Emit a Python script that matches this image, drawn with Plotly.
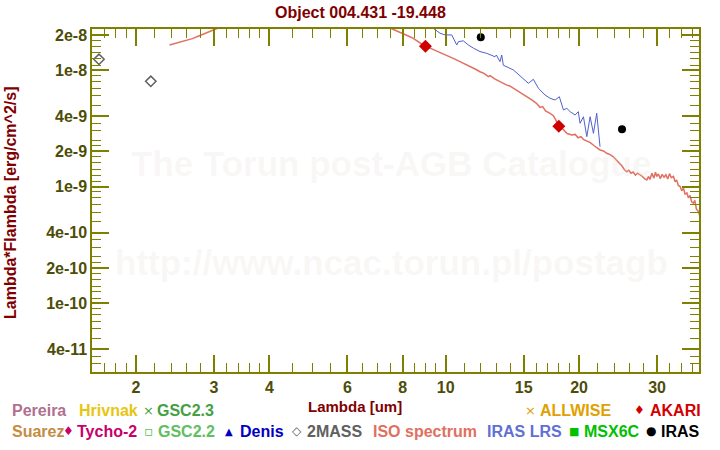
import plotly.graph_objects as go

# ---------------- data ----------------
iso_wl = [2.38, 2.45, 2.53, 2.60, 2.68, 2.78, 2.88, 3.00, 3.20, 3.60, 4.20, 5.00, 5.80, 6.60, 7.20,
          7.60, 7.80, 8.02, 8.23, 8.45, 8.70, 8.98, 9.30, 9.63, 10.06, 10.40, 10.77, 11.05, 11.35,
          11.65, 11.95, 12.20, 12.48, 12.60, 12.90, 13.26, 13.50, 13.70, 13.95, 14.22, 14.60, 14.97,
          15.30, 15.64, 16.00, 16.33, 16.55, 16.80, 17.20, 17.50, 17.80, 18.05, 18.40, 18.80, 19.25,
          19.60, 19.90, 20.20, 20.50, 20.82, 21.20, 21.60, 22.00, 22.30, 22.70, 23.10, 23.50, 23.90,
          24.30, 24.70, 25.00, 25.30, 25.62, 25.90, 26.20, 26.50, 26.80, 27.10, 27.46, 27.80, 28.10,
          28.44, 28.70, 28.90, 29.20, 29.50, 29.75, 29.95, 30.20, 30.50, 30.80, 31.10, 31.40, 31.70,
          32.00, 32.30, 32.66, 32.95, 33.20, 33.50, 33.81, 34.10, 34.40, 34.70, 35.02, 35.30, 35.60,
          35.90, 36.23, 36.50, 36.80, 37.19, 37.50]
iso_flux = [1.64e-8, 1.69e-8, 1.75e-8, 1.80e-8, 1.86e-8, 1.97e-8, 2.08e-8, 2.24e-8, 2.45e-8, 2.75e-8,
            2.95e-8, 3.05e-8, 2.95e-8, 2.70e-8, 2.45e-8,
            2.24e-8, 2.15e-8, 2.07e-8, 1.96e-8, 1.87e-8, 1.74e-8, 1.60e-8, 1.52e-8, 1.44e-8, 1.33e-8,
            1.26e-8, 1.18e-8, 1.13e-8, 1.07e-8,
            1.02e-8, 9.67e-9, 9.35e-9, 8.76e-9, 8.95e-9, 8.40e-9, 7.94e-9, 7.70e-9, 7.45e-9, 7.30e-9,
            6.97e-9, 6.60e-9, 6.22e-9,
            5.90e-9, 5.53e-9, 5.20e-9, 4.78e-9, 4.85e-9, 4.45e-9, 4.25e-9, 4.05e-9, 3.60e-9, 3.29e-9,
            3.10e-9, 2.85e-9, 2.77e-9,
            2.80e-9, 2.62e-9, 2.68e-9, 2.52e-9, 2.47e-9, 2.38e-9, 2.25e-9, 2.15e-9, 2.06e-9, 2.02e-9,
            1.93e-9, 1.88e-9, 1.80e-9,
            1.68e-9, 1.58e-9, 1.50e-9, 1.40e-9, 1.34e-9, 1.38e-9, 1.30e-9, 1.33e-9, 1.25e-9, 1.30e-9,
            1.26e-9, 1.22e-9, 1.17e-9,
            1.14e-9, 1.22e-9, 1.15e-9, 1.30e-9, 1.18e-9, 1.33e-9, 1.22e-9, 1.28e-9, 1.17e-9, 1.27e-9,
            1.20e-9, 1.26e-9, 1.16e-9,
            1.29e-9, 1.19e-9, 1.22e-9, 1.10e-9, 1.14e-9, 1.02e-9, 1.00e-9, 0.92e-9, 0.97e-9, 0.86e-9,
            0.88e-9, 0.80e-9, 0.84e-9,
            0.74e-9, 0.72e-9, 0.76e-9, 0.64e-9, 0.61e-9, 0.55e-9]

lrs_wl = [7.70, 8.50, 9.20, 9.46, 9.71, 9.97, 10.32, 10.59, 10.68, 10.96, 11.25, 11.55, 11.95, 12.38,
          12.92, 13.01, 13.26, 13.38, 13.49, 14.22, 14.97, 15.37, 15.77, 16.19, 16.76, 17.20, 17.66,
          18.05, 18.44, 18.76, 19.09, 19.59, 19.92, 20.10, 20.46, 20.82, 21.18, 21.55, 21.92, 22.10, 22.30]
lrs_flux = [3.30e-8, 2.85e-8, 2.40e-8, 2.24e-8, 2.07e-8, 2.00e-8, 2.00e-8, 1.64e-8, 1.75e-8, 1.78e-8,
            1.64e-8, 1.54e-8, 1.44e-8, 1.39e-8,
            1.30e-8, 1.345e-8, 1.18e-8, 1.345e-8, 1.10e-8, 1.00e-8, 8.49e-9, 7.69e-9, 8.32e-9, 6.97e-9,
            6.10e-9, 5.72e-9, 5.53e-9,
            5.90e-9, 4.54e-9, 4.69e-9, 4.39e-9, 4.11e-9, 4.39e-9, 3.49e-9, 3.97e-9, 2.68e-9, 3.97e-9,
            2.86e-9, 4.25e-9, 3.06e-9, 2.20e-9]

twomass_wl = [1.65, 2.16]
twomass_flux = [1.235e-8, 0.80e-8]

akari_wl = [9.0, 18.0]
akari_flux = [1.60e-8, 3.29e-9]

iras_wl = [12.0, 25.0]
iras_flux = [1.91e-8, 3.10e-9]

x_tickvals = [2, 3, 4, 6, 8, 10, 15, 20, 30]
x_ticktext = ["2", "3", "4", "6", "8", "10", "15", "20", "30"]
x_minor = [1.7, 1.8, 1.9, 2.2, 2.4, 2.6, 2.8, 3.2, 3.4, 3.6, 3.8, 4.5, 5, 5.5, 6.5, 7, 7.5,
           8.5, 9, 9.5, 11, 12, 13, 14, 16, 17, 18, 19, 22, 24, 26, 28, 32, 34, 36]
y_tickvals = [4e-11, 1e-10, 2e-10, 4e-10, 1e-9, 2e-9, 4e-9, 1e-8, 2e-8]
y_ticktext = ["4e-11", "1e-10", "2e-10", "4e-10", "1e-9", "2e-9", "4e-9", "1e-8", "2e-8"]
y_minor_mant = [1.1, 1.25, 1.4, 1.6, 1.8, 2.25, 2.5, 3, 3.5, 5, 6, 7, 8, 9]
y_minor = [3e-11, 3.5e-11] + [m * 10.0 ** e for e in (-11, -10, -9, -8) for m in y_minor_mant
                              if 2.5e-11 < m * 10.0 ** e < 2.25e-8]

legend_row1 = [("Pereira", "#b07090", None), ("Hrivnak", "#e6c612", None), ("GSC2.3", "#44a044", "×"),
               ("ALLWISE", "#e0a000", "×"), ("AKARI", "#d40000", "♦")]
legend_row2 = [("Suarez", "#c48c44", None), ("Tycho-2", "#c8006c", "♦"), ("GSC2.2", "#60c060", "▫"),
               ("Denis", "#0000c0", "▲"), ("2MASS", "#606060", "◇"), ("ISO spectrum", "#e07060", None),
               ("IRAS LRS", "#6070d4", None), ("MSX6C", "#00c000", "■"), ("IRAS", "#000000", "●")]
# left pixel positions of symbol / text for each legend entry
row1_pos = [(None, 10), (None, 77), (148, 155), (530, 538), (639, 648)]
row2_pos = [(None, 10), (68, 75), (149, 156), (229, 238), (297, 305), (None, 371), (None, 485),
            (574, 582), (651, 659)]

# ---------------- figure ----------------
L, R, T, B = 92, 699, 29, 372
W, H = 720, 450


def px(x):
    return (x - L) / (R - L)


def py(y):
    return (B - y) / (B - T)


FONT = "Liberation Sans"
fig = go.Figure()

fig.add_trace(go.Scatter(x=iso_wl, y=iso_flux, mode="lines", line=dict(color="#e07060", width=1.5),
                         showlegend=False))
fig.add_trace(go.Scatter(x=lrs_wl, y=lrs_flux, mode="lines", line=dict(color="#5060d0", width=1),
                         showlegend=False))
fig.add_trace(go.Scatter(x=twomass_wl, y=twomass_flux, mode="markers",
                         marker=dict(symbol="diamond-open", size=8, color="#606060",
                                     line=dict(width=1.5, color="#606060")), showlegend=False))
fig.add_trace(go.Scatter(x=akari_wl, y=akari_flux, mode="markers",
                         marker=dict(symbol="diamond", size=10, color="#d00000"), showlegend=False))
fig.add_trace(go.Scatter(x=iras_wl, y=iras_flux, mode="markers",
                         marker=dict(symbol="circle", size=8, color="#000000"), showlegend=False))

axis_common = dict(
    type="log", showgrid=False, zeroline=False, showline=True, linecolor="#808000", linewidth=1.5,
    mirror="ticks", ticks="inside", ticklen=17, tickwidth=1.5, tickcolor="#808000",
    tickfont=dict(family=FONT, size=16, color="#4d4d08", weight="bold"),
)

fig.update_xaxes(**axis_common, range=[0.2017, 1.5717], tickmode="array", tickvals=x_tickvals,
                 ticktext=x_ticktext,
                 minor=dict(tickmode="array", tickvals=x_minor, ticks="inside", ticklen=9,
                            tickcolor="#808000", tickwidth=1.2))
fig.update_yaxes(**axis_common, range=[-10.592, -7.648], tickmode="array", tickvals=y_tickvals,
                 ticktext=y_ticktext,
                 minor=dict(tickmode="array", tickvals=y_minor, ticks="inside", ticklen=9,
                            tickcolor="#808000", tickwidth=1.2))

ann = []
# watermark (drawn first, faint)
for txt, yy in [("The Torun post-AGB Catalogue", 163), ("http://www.ncac.torun.pl/postagb", 262)]:
    ann.append(dict(text=txt, x=px(391), y=py(yy), xref="paper", yref="paper", showarrow=False,
                    font=dict(family=FONT, size=35, color="rgba(225,215,205,0.2)", weight="bold"),
                    xanchor="center", yanchor="middle"))
# title
ann.append(dict(text="Object 004.431 -19.448", x=px(360), y=py(12), xref="paper", yref="paper",
                showarrow=False, font=dict(family=FONT, size=16, color="#800000", weight="bold"),
                xanchor="center", yanchor="middle"))
# axis titles
ann.append(dict(text="Lambda [um]", x=px(355), y=py(406), xref="paper", yref="paper",
                showarrow=False, font=dict(family=FONT, size=15, color="#800000", weight="bold"),
                xanchor="center", yanchor="middle"))
ann.append(dict(text="Lambda*Flambda [erg/cm^2/s]", x=px(10), y=py(203), xref="paper", yref="paper",
                showarrow=False, textangle=-90,
                font=dict(family=FONT, size=16, color="#800000", weight="bold"),
                xanchor="center", yanchor="middle"))

# legend rows
sym_size = {"×": 13, "♦": 12, "▫": 14, "▲": 10, "◇": 12, "■": 11, "●": 12}
for entries, poss, yrow in [(legend_row1, row1_pos, 410), (legend_row2, row2_pos, 431)]:
    for (name, col, sym), (sx, tx) in zip(entries, poss):
        if sym is not None:
            ann.append(dict(text=sym, x=px(sx), y=py(yrow), xref="paper", yref="paper",
                            showarrow=False, xanchor="center", yanchor="middle",
                            font=dict(family="DejaVu Sans", size=sym_size[sym], color=col)))
        ann.append(dict(text=name, x=px(tx), y=py(yrow), xref="paper", yref="paper", showarrow=False,
                        xanchor="left", yanchor="middle",
                        font=dict(family=FONT, size=16, color=col, weight="bold")))

fig.update_layout(
    width=W, height=H, margin=dict(l=L, r=W - R, t=T, b=H - B, pad=0),
    paper_bgcolor="white", plot_bgcolor="white", annotations=ann, showlegend=False,
)

fig.write_html("out.html")
